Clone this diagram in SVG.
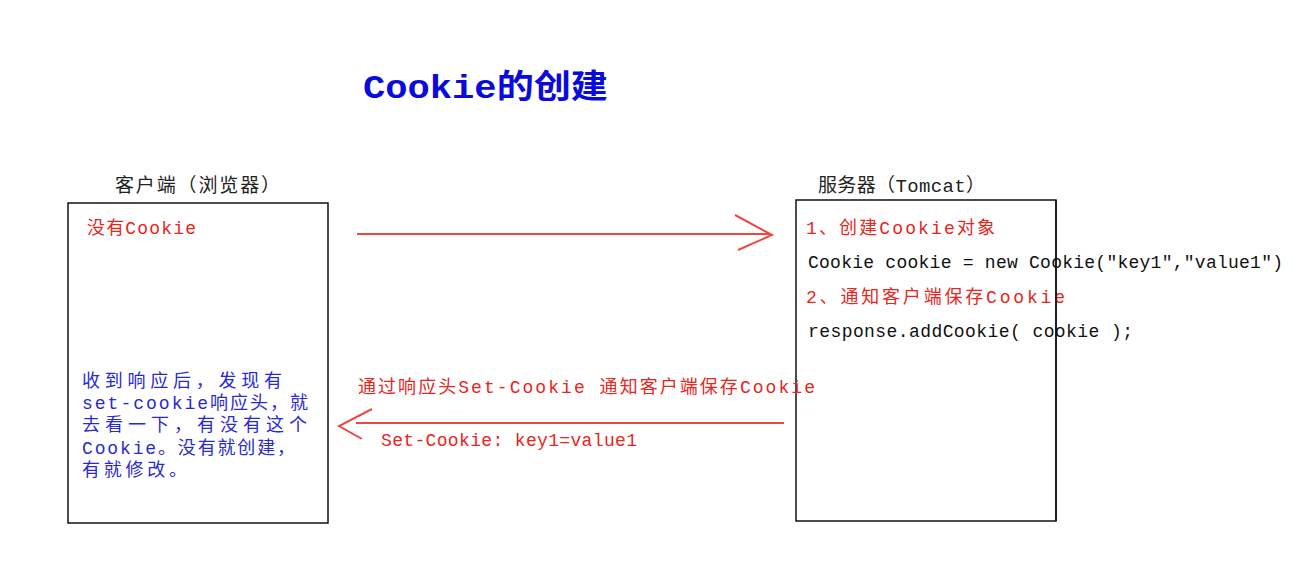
<svg xmlns="http://www.w3.org/2000/svg" width="1293" height="585" viewBox="0 0 1293 585">
<style>
text{font-family:"Liberation Mono","Noto Sans CJK SC",monospace;}
.lbl{font-size:19px;fill:#222;}
.red{font-size:18px;fill:#e8261c;}
.blk{font-size:18px;fill:#111;}
.blu{font-size:18px;fill:#2a2ad0;}
.box{fill:#fff;stroke:#111;stroke-width:1.5;}
.ln{stroke:#ec4a40;stroke-width:2;fill:none;}
</style>
<rect width="1293" height="585" fill="#fff"/>
<g id="title"><text x="363" y="98" font-size="33" font-weight="bold" fill="#0a0adc" textLength="245" lengthAdjust="spacingAndGlyphs">Cookie的创建</text></g>
<g id="client">
<text class="lbl" x="115" y="192" textLength="165" lengthAdjust="spacing">客户端（浏览器）</text>
<rect class="box" x="68" y="203" width="260" height="320"/>
<text class="red" x="87" y="234" textLength="109" lengthAdjust="spacing">没有Cookie</text>
<text class="blu" x="82" y="387" textLength="200" lengthAdjust="spacing">收到响应后，发现有</text>
<text class="blu" x="82" y="409" textLength="226" lengthAdjust="spacing">set-cookie响应头，就</text>
<text class="blu" x="82" y="431" textLength="225" lengthAdjust="spacing">去看一下，有没有这个</text>
<text class="blu" x="82" y="454" textLength="213" lengthAdjust="spacing">Cookie。没有就创建，</text>
<text class="blu" x="82" y="476" textLength="105" lengthAdjust="spacing">有就修改。</text>
</g>
<g id="server">
<text class="lbl" x="818" y="192" textLength="167" lengthAdjust="spacing">服务器（Tomcat）</text>
<rect class="box" x="796" y="200" width="260" height="321" fill="none"/>
<text class="red" x="806" y="234" textLength="189" lengthAdjust="spacing">1、创建Cookie对象</text>
<text class="blk" x="808" y="268" textLength="475" lengthAdjust="spacing">Cookie cookie = new Cookie("key1","value1")</text>
<text class="red" x="806" y="303" textLength="259" lengthAdjust="spacing">2、通知客户端保存Cookie</text>
<text class="blk" x="808" y="337" textLength="325" lengthAdjust="spacing">response.addCookie( cookie );</text>
<line x1="1056" y1="200" x2="1056" y2="521" stroke="#111" stroke-width="1.5"/>
</g>
<g id="connectors">
<line class="ln" x1="357" y1="234" x2="770" y2="234"/>
<polyline class="ln" points="735,215 772,235 738,250"/>
<line class="ln" x1="356" y1="423" x2="784" y2="423"/>
<polyline class="ln" points="372,409 339,426 362,439"/>
<text class="red" x="358" y="393" textLength="457" lengthAdjust="spacing">通过响应头Set-Cookie 通知客户端保存Cookie</text>
<text class="red" x="381" y="446" textLength="256" lengthAdjust="spacing">Set-Cookie: key1=value1</text>
</g>
</svg>
